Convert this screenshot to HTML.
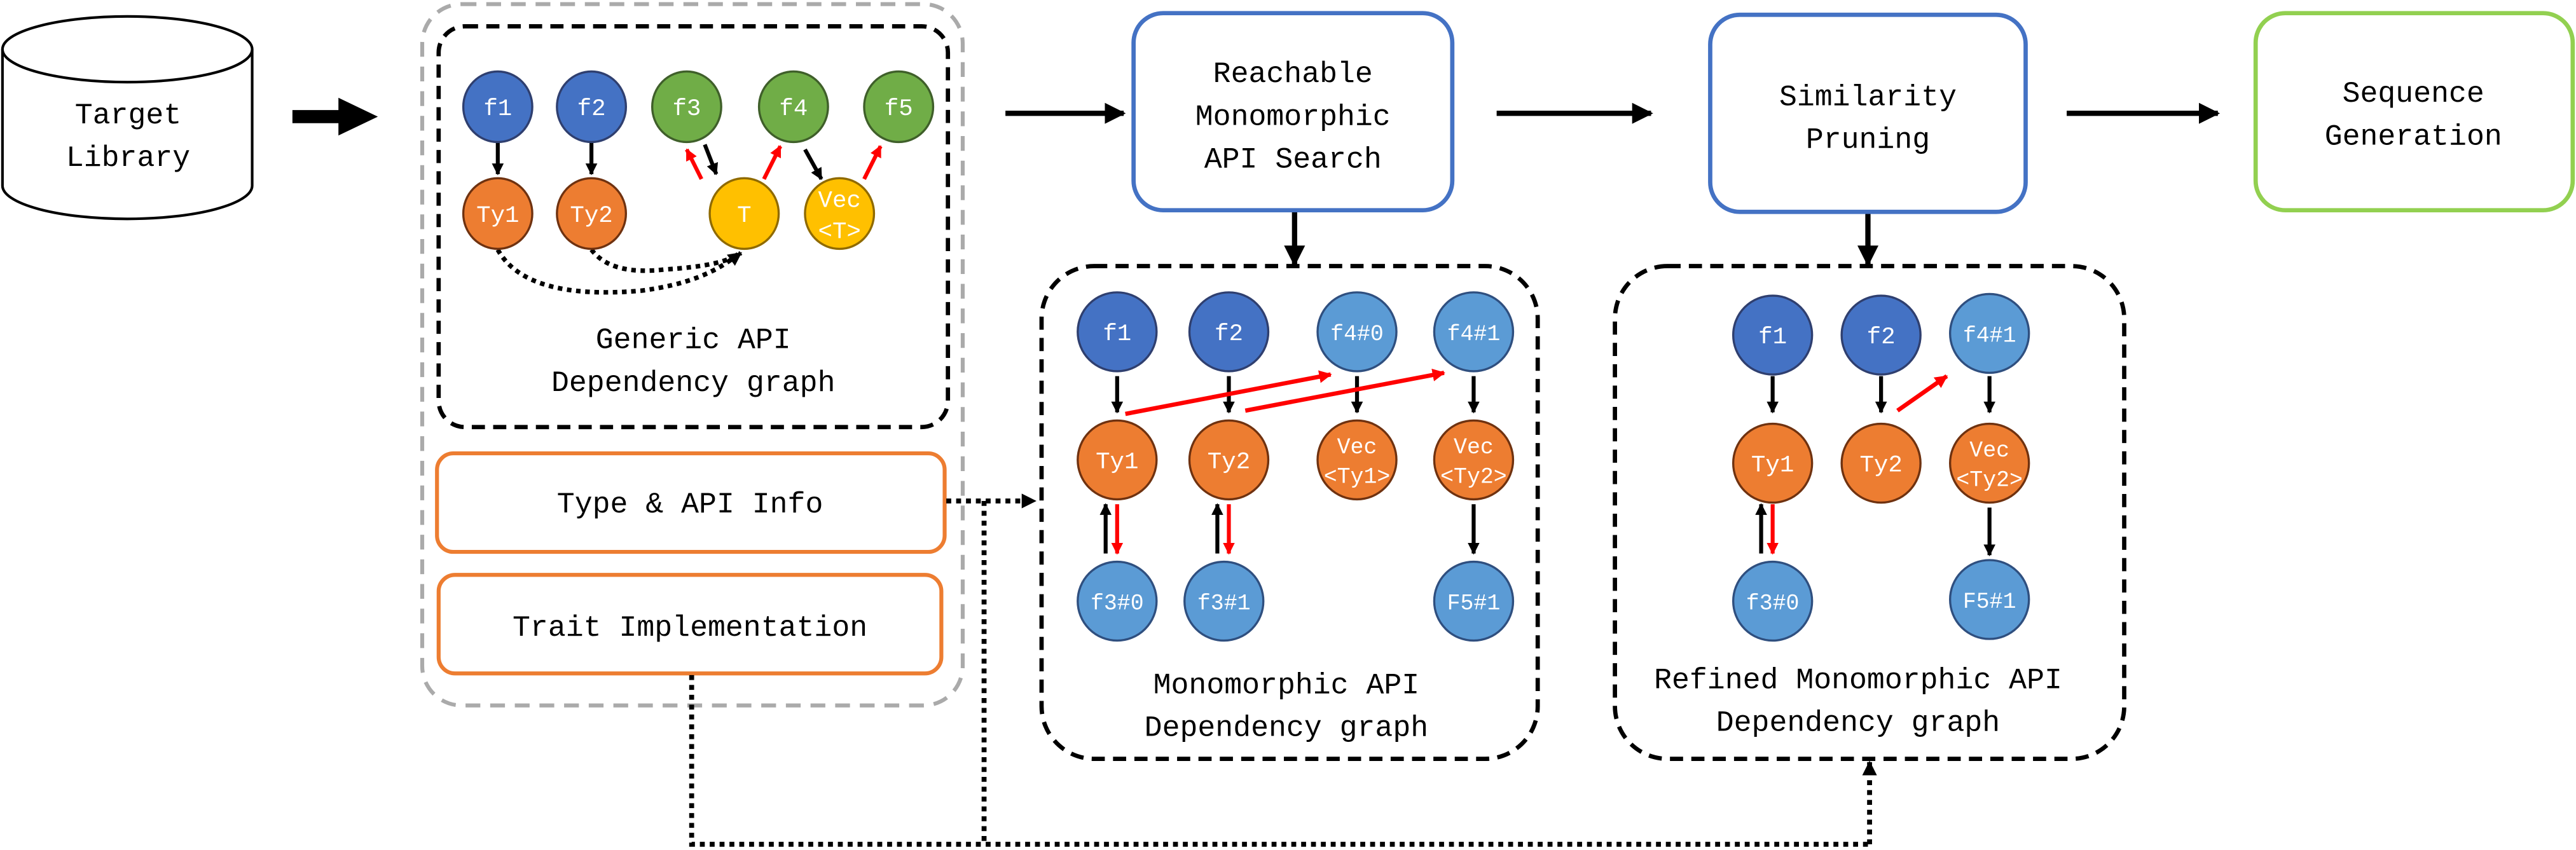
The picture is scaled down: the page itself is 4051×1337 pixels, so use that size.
<!DOCTYPE html>
<html><head><meta charset="utf-8"><style>
html,body{margin:0;padding:0;background:#fff;width:4051px;height:1337px;overflow:hidden}
svg{display:block}
text{font-family:"Liberation Mono","DejaVu Sans Mono",monospace;}
.lbl{font-size:18px;fill:#000;text-anchor:middle}
.nt{font-size:14.5px;fill:#fff;text-anchor:middle}
.nts{font-size:13.5px;fill:#fff;text-anchor:middle}
</style></head><body>
<svg width="4051" height="1337" viewBox="0 0 1568 517.5" xmlns="http://www.w3.org/2000/svg">
<defs>
<marker id="ab" viewBox="0 0 10 10" refX="9" refY="5" markerWidth="3" markerHeight="3" orient="auto-start-reverse"><path d="M0,0 L10,5 L0,10 z" fill="#000"/></marker>
<marker id="ar" viewBox="0 0 10 10" refX="9" refY="5" markerWidth="3" markerHeight="3" orient="auto-start-reverse"><path d="M0,0 L10,5 L0,10 z" fill="#f00"/></marker>
<marker id="abig" viewBox="0 0 10 10" refX="9" refY="5" markerWidth="4" markerHeight="4" orient="auto"><path d="M0,0 L10,5 L0,10 z" fill="#000"/></marker>
</defs>

<!-- cylinder -->
<path d="M1.5,30 L1.5,113 A75,20 0 0 0 153.5,113 L153.5,30" fill="#fff" stroke="#000" stroke-width="1.6"/>
<ellipse cx="77.5" cy="30" rx="76" ry="20" fill="#fff" stroke="#000" stroke-width="1.6"/>
<text class="lbl" x="78" y="75">Target</text>
<text class="lbl" x="78" y="101">Library</text>

<!-- big arrow -->
<path d="M178,67 L206,67 L206,59.5 L230,71 L206,82.5 L206,75 L178,75 z" fill="#000"/>

<!-- gray outer -->
<rect x="257" y="2.5" width="329" height="427" rx="24" fill="none" stroke="#aaa" stroke-width="2.4" stroke-dasharray="9 6"/>
<!-- generic box -->
<rect x="267" y="16" width="310" height="244" rx="16" fill="none" stroke="#000" stroke-width="2.6" stroke-dasharray="8 5"/>

<!-- generic graph arrows -->
<g stroke-width="2.4" fill="none">
<line x1="303" y1="87" x2="303" y2="106" stroke="#000" marker-end="url(#ab)"/>
<line x1="360" y1="87" x2="360" y2="106" stroke="#000" marker-end="url(#ab)"/>
<line x1="429" y1="88" x2="436" y2="106" stroke="#000" marker-end="url(#ab)"/>
<line x1="427" y1="109" x2="418" y2="91" stroke="#f00" marker-end="url(#ar)"/>
<line x1="465" y1="109" x2="475" y2="89" stroke="#f00" marker-end="url(#ar)"/>
<line x1="490" y1="91" x2="500" y2="109" stroke="#000" marker-end="url(#ab)"/>
<line x1="526" y1="109" x2="536" y2="89" stroke="#f00" marker-end="url(#ar)"/>
<path d="M303,152 Q320,183 390,177 Q430,172 450,154" stroke="#000" stroke-width="2.8" stroke-dasharray="2.8 2.8"/>
<path d="M360,152 Q372,168 405,164 Q440,162 451,154" stroke="#000" stroke-width="2.8" stroke-dasharray="2.8 2.8" marker-end="url(#ab)"/>
</g>
<g stroke-width="1.3">
<ellipse cx="303" cy="65" rx="21" ry="21.5" fill="#4472C4" stroke="#2F3F6F"/><text class="nt" x="303" y="70">f1</text>
<ellipse cx="360" cy="65" rx="21" ry="21.5" fill="#4472C4" stroke="#2F3F6F"/><text class="nt" x="360" y="70">f2</text>
<ellipse cx="418" cy="65" rx="21" ry="21.5" fill="#70AD47" stroke="#3F5F2A"/><text class="nt" x="418" y="70">f3</text>
<ellipse cx="483" cy="65" rx="21" ry="21.5" fill="#70AD47" stroke="#3F5F2A"/><text class="nt" x="483" y="70">f4</text>
<ellipse cx="547" cy="65" rx="21" ry="21.5" fill="#70AD47" stroke="#3F5F2A"/><text class="nt" x="547" y="70">f5</text>
<ellipse cx="303" cy="130" rx="21" ry="21.5" fill="#ED7D31" stroke="#6F3210"/><text class="nt" x="303" y="135">Ty1</text>
<ellipse cx="360" cy="130" rx="21" ry="21.5" fill="#ED7D31" stroke="#6F3210"/><text class="nt" x="360" y="135">Ty2</text>
<ellipse cx="453" cy="130" rx="21" ry="21.5" fill="#FFC000" stroke="#8F6A00"/><text class="nt" x="453" y="135">T</text>
<ellipse cx="511" cy="130" rx="21" ry="21.5" fill="#FFC000" stroke="#8F6A00"/><text class="nt" x="511" y="126">Vec</text><text class="nt" x="511" y="145">&lt;T&gt;</text>
</g>
<text class="lbl" x="422" y="212">Generic API</text>
<text class="lbl" x="422" y="238">Dependency graph</text>

<!-- info boxes -->
<rect x="266" y="276" width="309" height="60" rx="10" fill="#fff" stroke="#ED7D31" stroke-width="2.4"/>
<text class="lbl" x="420" y="312">Type &amp; API Info</text>
<rect x="267" y="350" width="306" height="60" rx="10" fill="#fff" stroke="#ED7D31" stroke-width="2.4"/>
<text class="lbl" x="420" y="387">Trait Implementation</text>

<!-- dotted connectors -->
<g fill="none" stroke="#000" stroke-width="3" stroke-dasharray="3 3">
<path d="M576,305 L630,305" marker-end="url(#ab)"/>
<path d="M599,305 L599,514 L1138,514"/>
<path d="M421,411 L421,514 L600,514"/>
<path d="M1138,514 L1138,464" marker-end="url(#ab)"/>
</g>

<!-- top arrows -->
<g stroke="#000" stroke-width="3.2" fill="none">
<line x1="612" y1="69" x2="684" y2="69" marker-end="url(#abig)"/>
<line x1="911" y1="69" x2="1005" y2="69" marker-end="url(#abig)"/>
<line x1="1258" y1="69" x2="1350" y2="69" marker-end="url(#abig)"/>
<line x1="788" y1="129" x2="788" y2="161" marker-end="url(#abig)"/>
<line x1="1137" y1="130" x2="1137" y2="161" marker-end="url(#abig)"/>
</g>

<!-- process boxes -->
<rect x="690" y="8" width="194" height="120" rx="18" fill="#fff" stroke="#4472C4" stroke-width="2.6"/>
<text class="lbl" x="787" y="50">Reachable</text>
<text class="lbl" x="787" y="76">Monomorphic</text>
<text class="lbl" x="787" y="102">API Search</text>
<rect x="1041" y="9" width="192" height="120" rx="18" fill="#fff" stroke="#4472C4" stroke-width="2.6"/>
<text class="lbl" x="1137" y="64">Similarity</text>
<text class="lbl" x="1137" y="90">Pruning</text>
<rect x="1373" y="8" width="193" height="120" rx="18" fill="#fff" stroke="#92D050" stroke-width="2.6"/>
<text class="lbl" x="1469" y="62">Sequence</text>
<text class="lbl" x="1469" y="88">Generation</text>

<!-- mono box -->
<rect x="634" y="162" width="302" height="300" rx="32" fill="none" stroke="#000" stroke-width="2.6" stroke-dasharray="8 5"/>
<g stroke-width="2.4" fill="none">
<line x1="680" y1="229" x2="680" y2="251" stroke="#000" marker-end="url(#ab)"/>
<line x1="748" y1="229" x2="748" y2="251" stroke="#000" marker-end="url(#ab)"/>
<line x1="826" y1="229" x2="826" y2="251" stroke="#000" marker-end="url(#ab)"/>
<line x1="897" y1="229" x2="897" y2="251" stroke="#000" marker-end="url(#ab)"/>
<line x1="685" y1="252" x2="810" y2="228" stroke="#f00" stroke-width="2.6" marker-end="url(#ar)"/>
<line x1="758" y1="250" x2="879" y2="227" stroke="#f00" stroke-width="2.6" marker-end="url(#ar)"/>
<line x1="673" y1="337" x2="673" y2="307" stroke="#000" marker-end="url(#ab)"/>
<line x1="680" y1="307" x2="680" y2="337" stroke="#f00" marker-end="url(#ar)"/>
<line x1="741" y1="337" x2="741" y2="307" stroke="#000" marker-end="url(#ab)"/>
<line x1="748" y1="307" x2="748" y2="337" stroke="#f00" marker-end="url(#ar)"/>
<line x1="897" y1="307" x2="897" y2="337" stroke="#000" marker-end="url(#ab)"/>
</g>
<g stroke-width="1.3">
<ellipse cx="680" cy="202" rx="24" ry="24" fill="#4472C4" stroke="#2F3F6F"/><text class="nt" x="680" y="207">f1</text>
<ellipse cx="748" cy="202" rx="24" ry="24" fill="#4472C4" stroke="#2F3F6F"/><text class="nt" x="748" y="207">f2</text>
<ellipse cx="826" cy="202" rx="24" ry="24" fill="#5B9BD5" stroke="#2F4F7F"/><text class="nts" x="826" y="207">f4#0</text>
<ellipse cx="897" cy="202" rx="24" ry="24" fill="#5B9BD5" stroke="#2F4F7F"/><text class="nts" x="897" y="207">f4#1</text>
<ellipse cx="680" cy="280" rx="24" ry="24" fill="#ED7D31" stroke="#6F3210"/><text class="nt" x="680" y="285">Ty1</text>
<ellipse cx="748" cy="280" rx="24" ry="24" fill="#ED7D31" stroke="#6F3210"/><text class="nt" x="748" y="285">Ty2</text>
<ellipse cx="826" cy="280" rx="24" ry="24" fill="#ED7D31" stroke="#6F3210"/><text class="nts" x="826" y="276">Vec</text><text class="nts" x="826" y="294">&lt;Ty1&gt;</text>
<ellipse cx="897" cy="280" rx="24" ry="24" fill="#ED7D31" stroke="#6F3210"/><text class="nts" x="897" y="276">Vec</text><text class="nts" x="897" y="294">&lt;Ty2&gt;</text>
<ellipse cx="680" cy="366" rx="24" ry="24" fill="#5B9BD5" stroke="#2F4F7F"/><text class="nts" x="680" y="371">f3#0</text>
<ellipse cx="745" cy="366" rx="24" ry="24" fill="#5B9BD5" stroke="#2F4F7F"/><text class="nts" x="745" y="371">f3#1</text>
<ellipse cx="897" cy="366" rx="24" ry="24" fill="#5B9BD5" stroke="#2F4F7F"/><text class="nts" x="897" y="371">F5#1</text>
</g>
<text class="lbl" x="783" y="422">Monomorphic API</text>
<text class="lbl" x="783" y="448">Dependency graph</text>

<!-- refined box -->
<rect x="983" y="162" width="310" height="300" rx="32" fill="none" stroke="#000" stroke-width="2.6" stroke-dasharray="8 5"/>
<g stroke-width="2.4" fill="none">
<line x1="1079" y1="229" x2="1079" y2="251" stroke="#000" marker-end="url(#ab)"/>
<line x1="1145" y1="229" x2="1145" y2="251" stroke="#000" marker-end="url(#ab)"/>
<line x1="1211" y1="229" x2="1211" y2="251" stroke="#000" marker-end="url(#ab)"/>
<line x1="1155" y1="250" x2="1185" y2="229" stroke="#f00" stroke-width="2.6" marker-end="url(#ar)"/>
<line x1="1072" y1="337" x2="1072" y2="307" stroke="#000" marker-end="url(#ab)"/>
<line x1="1079" y1="307" x2="1079" y2="337" stroke="#f00" marker-end="url(#ar)"/>
<line x1="1211" y1="309" x2="1211" y2="338" stroke="#000" marker-end="url(#ab)"/>
</g>
<g stroke-width="1.3">
<ellipse cx="1079" cy="204" rx="24" ry="24" fill="#4472C4" stroke="#2F3F6F"/><text class="nt" x="1079" y="209">f1</text>
<ellipse cx="1145" cy="204" rx="24" ry="24" fill="#4472C4" stroke="#2F3F6F"/><text class="nt" x="1145" y="209">f2</text>
<ellipse cx="1211" cy="203" rx="24" ry="24" fill="#5B9BD5" stroke="#2F4F7F"/><text class="nts" x="1211" y="208">f4#1</text>
<ellipse cx="1079" cy="282" rx="24" ry="24" fill="#ED7D31" stroke="#6F3210"/><text class="nt" x="1079" y="287">Ty1</text>
<ellipse cx="1145" cy="282" rx="24" ry="24" fill="#ED7D31" stroke="#6F3210"/><text class="nt" x="1145" y="287">Ty2</text>
<ellipse cx="1211" cy="282" rx="24" ry="24" fill="#ED7D31" stroke="#6F3210"/><text class="nts" x="1211" y="278">Vec</text><text class="nts" x="1211" y="296">&lt;Ty2&gt;</text>
<ellipse cx="1079" cy="366" rx="24" ry="24" fill="#5B9BD5" stroke="#2F4F7F"/><text class="nts" x="1079" y="371">f3#0</text>
<ellipse cx="1211" cy="365" rx="24" ry="24" fill="#5B9BD5" stroke="#2F4F7F"/><text class="nts" x="1211" y="370">F5#1</text>
</g>
<text class="lbl" x="1131" y="419">Refined Monomorphic API</text>
<text class="lbl" x="1131" y="445">Dependency graph</text>
</svg>
</body></html>
